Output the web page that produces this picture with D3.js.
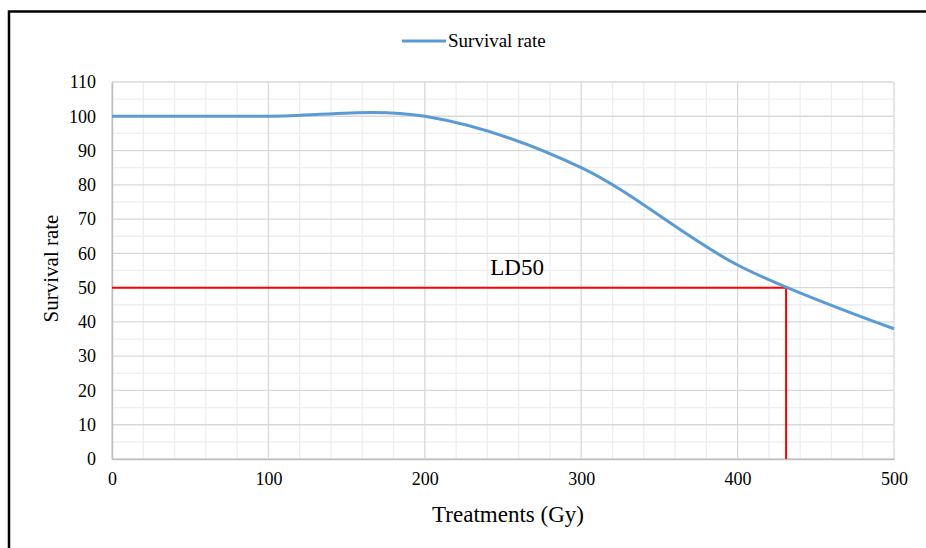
<!DOCTYPE html>
<html>
<head>
<meta charset="utf-8">
<script src="https://cdn.jsdelivr.net/npm/d3@7"></script>
<style>
  body { margin: 0; background: #fff; }
  svg { display: block; font-family: "Liberation Serif", "Times New Roman", serif; }
</style>
</head>
<body>
<svg id="chart"></svg>
<script>
// data
const treatments = [0, 100, 200, 300, 400, 500];
const survival = [100, 100, 100, 85, 56.6, 38];
const xTicks = [0, 100, 200, 300, 400, 500];
const yTicks = [0, 10, 20, 30, 40, 50, 60, 70, 80, 90, 100, 110];
const ld50 = { dose: 431, rate: 50 };

const W = 926, H = 548;
const margin = { top: 82, right: 32, bottom: 89, left: 112 };
const width = W - margin.left - margin.right;
const height = H - margin.top - margin.bottom;

const svg = d3.select("#chart").attr("width", W).attr("height", H);

// outer frame (runs off the right and bottom of the picture)
svg.append("rect")
  .attr("x", 9).attr("y", 11.5)
  .attr("width", W).attr("height", H)
  .attr("fill", "none").attr("stroke", "#000").attr("stroke-width", 2.5);

const g = svg.append("g")
  .attr("transform", `translate(${margin.left},${margin.top})`);

const x = d3.scaleLinear().domain([0, 500]).range([0, width]);
const y = d3.scaleLinear().domain([0, 110]).range([height, 0]);

// minor grid
g.append("g").selectAll("line")
  .data(d3.range(0, 501, 20).filter(v => v % 100))
  .enter().append("line")
  .attr("x1", d => x(d)).attr("x2", d => x(d))
  .attr("y1", 0).attr("y2", height)
  .attr("stroke", "#eeeeee").attr("stroke-width", 1.3);

g.append("g").selectAll("line")
  .data(d3.range(5, 110, 10))
  .enter().append("line")
  .attr("x1", 0).attr("x2", width)
  .attr("y1", d => y(d)).attr("y2", d => y(d))
  .attr("stroke", "#eeeeee").attr("stroke-width", 1.3);

// major grid
g.append("g").selectAll("line")
  .data(xTicks)
  .enter().append("line")
  .attr("x1", d => x(d)).attr("x2", d => x(d))
  .attr("y1", 0).attr("y2", height)
  .attr("stroke", "#d9d9d9").attr("stroke-width", 1.3);

g.append("g").selectAll("line")
  .data(yTicks)
  .enter().append("line")
  .attr("x1", 0).attr("x2", width)
  .attr("y1", d => y(d)).attr("y2", d => y(d))
  .attr("stroke", "#d9d9d9").attr("stroke-width", 1.3);

// axes
const xAxis = g.append("g")
  .attr("transform", `translate(0,${height})`)
  .call(d3.axisBottom(x).tickValues(xTicks).tickSize(0).tickPadding(13));
xAxis.select(".domain").attr("stroke", "#bfbfbf").attr("stroke-width", 1.5);
xAxis.selectAll("text")
  .style("font-family", "Liberation Serif, serif").style("font-size", "18px").attr("fill", "#000");

const yAxis = g.append("g")
  .call(d3.axisLeft(y).tickValues(yTicks).tickSize(0).tickPadding(16));
yAxis.select(".domain").attr("stroke", "#bfbfbf").attr("stroke-width", 1.5);
yAxis.selectAll("text")
  .style("font-family", "Liberation Serif, serif").style("font-size", "18px").attr("fill", "#000");

// LD50 guide lines
g.append("line")
  .attr("x1", 0).attr("x2", x(ld50.dose))
  .attr("y1", y(ld50.rate)).attr("y2", y(ld50.rate))
  .attr("stroke", "#ff0000").attr("stroke-width", 2);
g.append("line")
  .attr("x1", x(ld50.dose)).attr("x2", x(ld50.dose))
  .attr("y1", y(ld50.rate)).attr("y2", height)
  .attr("stroke", "#ff0000").attr("stroke-width", 2);

g.append("text")
  .attr("x", x(259)).attr("y", y(ld50.rate) - 13)
  .style("text-anchor", "middle")
  .style("font-size", "23px")
  .text("LD50");

// survival curve
const line = d3.line()
  .x((d, i) => x(treatments[i]))
  .y(d => y(d))
  .curve(d3.curveCardinal.tension(0));

g.append("path")
  .datum(survival)
  .attr("d", line)
  .attr("fill", "none")
  .attr("stroke", "#5b9bd5")
  .attr("stroke-width", 3);

// axis titles
g.append("text")
  .attr("transform", `translate(${width / 2 + 5}, ${height + 63})`)
  .style("text-anchor", "middle")
  .style("font-size", "23px")
  .text("Treatments (Gy)");

g.append("text")
  .attr("transform", `translate(${-margin.left + 58}, ${height / 2 - 2}) rotate(-90)`)
  .style("text-anchor", "middle")
  .style("font-size", "21px")
  .text("Survival rate");

// legend
const legend = svg.append("g").attr("transform", "translate(402,41)");
legend.append("line")
  .attr("x1", 0).attr("x2", 44)
  .attr("stroke", "#5b9bd5").attr("stroke-width", 3);
legend.append("text")
  .attr("x", 46).attr("y", 6)
  .style("font-size", "19px")
  .text("Survival rate");
</script>
</body>
</html>
